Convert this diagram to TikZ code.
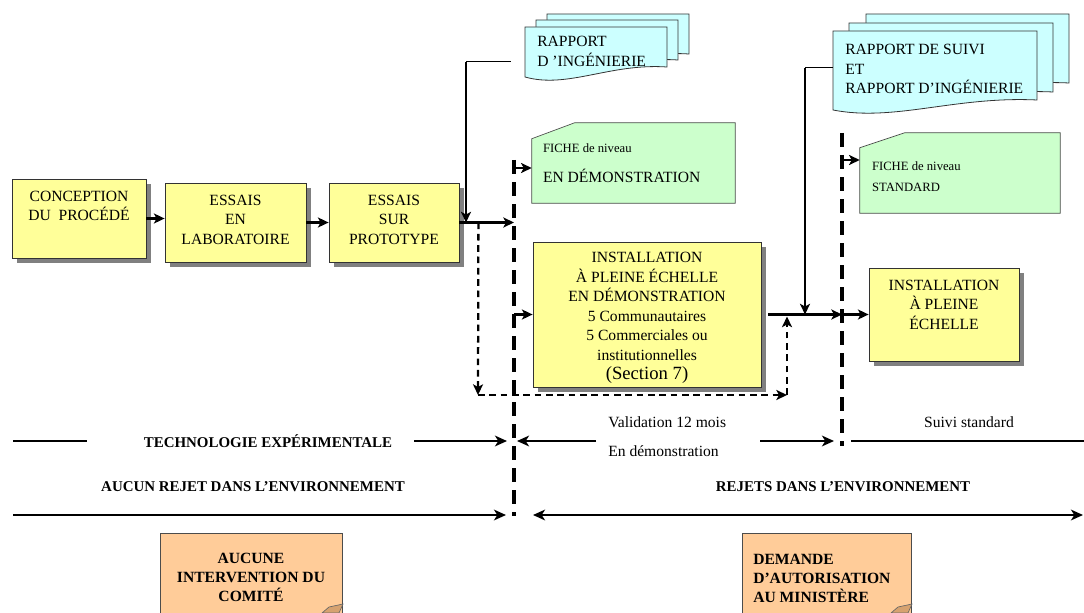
\documentclass[tikz,border=0pt]{standalone}
\usepackage{fontspec}
\setmainfont{Liberation Serif}
\usetikzlibrary{arrows.meta, positioning, calc, shadows, fit}
\definecolor{stageyellow}{RGB}{255,255,153}
\definecolor{fichegreen}{RGB}{204,255,204}
\definecolor{rapportcyan}{RGB}{204,255,255}
\definecolor{noteorange}{RGB}{255,204,153}
\definecolor{curltan}{RGB}{214,162,112}
\definecolor{shadowgray}{RGB}{128,128,128}

\newcommand{\docwave}[4]{(#1,#2) -- (#3,#2) -- (#3,#4-10) .. controls ({#1+0.6*(#3-#1)},#4-14) and ({#1+0.3*(#3-#1)},#4+12) .. (#1,#4) -- cycle}

\tikzset{
  stage/.style={draw=black!80, line width=0.6pt, fill=stageyellow, inner sep=0pt,
    drop shadow={shadow xshift=3.75pt, shadow yshift=-3.75pt, fill=shadowgray, opacity=1}},
  stagetext/.style={align=center, inner sep=0pt, font=\fontsize{11.7}{14.6}\selectfont},
  fiche/.style={draw=black!70, line width=0.5pt, fill=fichegreen},
  fichetext/.style={align=left, inner sep=0pt, anchor=north west, font=\fontsize{11.7}{14.6}\selectfont},
  rapport/.style={draw=black!80, line width=0.6pt, fill=rapportcyan},
  rapporttext/.style={align=left, inner sep=0pt, anchor=north west, font=\fontsize{11.7}{14.6}\selectfont},
  note/.style={draw=black!70, line width=0.6pt, fill=noteorange, inner sep=0pt},
  notetext/.style={inner sep=0pt, font=\bfseries\fontsize{11.7}{14.2}\selectfont},
  flow/.style={line width=1.8pt, -{Stealth[length=8pt, width=7.5pt, inset=2pt]}},
  flowdash/.style={flow, line width=1.7pt, dash pattern=on 5pt off 3.5pt},
  feed/.style={line width=0.75pt},
  limitline/.style={line width=3.2pt, dash pattern=on 10.5pt off 6pt},
  band/.style={line width=2.2pt},
  bandtip/.tip={Stealth[length=9pt, width=8pt, inset=2.5pt]},
  bandarr/.style={band, -bandtip},
  bandlabel/.style={inner sep=0pt, font=\bfseries\fontsize{11.2}{14}\selectfont},
  phase/.style={inner sep=0pt, anchor=west, font=\fontsize{11.7}{14}\selectfont}
}

\begin{document}
\begin{tikzpicture}[x=0.75pt, y=-0.75pt]
\useasboundingbox (0,0) rectangle (1084,613);

% etapes du procede
\node[stage, fit={(12,179) (146,258)}] (concept) {};
\node[stagetext, below=9pt of concept.north] (concepttxt) {CONCEPTION\\DU~~PROCÉDÉ};
\node[stage, fit={(165,183) (306,262)}] (labo) {};
\node[stagetext, below=9pt of labo.north] (labotxt) {ESSAIS\\EN\\LABORATOIRE};
\node[stage, fit={(329,183) (459,262)}] (proto) {};
\node[stagetext, below=9pt of proto.north] (prototxt) {ESSAIS\\SUR\\PROTOTYPE};
\node[stage, fit={(533,242) (761,387)}] (demo) {};
\node[stagetext, below=8pt of demo.north] (demotxt) {INSTALLATION\\À PLEINE ÉCHELLE\\EN DÉMONSTRATION\\5 Communautaires\\5 Commerciales ou\\institutionnelles\\{\fontsize{14}{16}\selectfont (Section 7)}};
\node[stage, fit={(869,268) (1019,361)}] (pleine) {};
\node[stagetext, below=9pt of pleine.north] (pleinetxt) {INSTALLATION\\À PLEINE\\ÉCHELLE};

% rapports
\filldraw[rapport] \docwave{547}{14}{689}{64};
\filldraw[rapport] \docwave{536}{20}{678}{70};
\filldraw[rapport] \docwave{525}{27}{667}{77};
\node[fit={(525,27) (667,77)}, inner sep=0pt] (ring) {};
\node[rapporttext] (ringtxt) at (537,36) {RAPPORT\\D 'INGÉNIERIE};

\filldraw[rapport] \docwave{866}{14}{1069}{93};
\filldraw[rapport] \docwave{849}{23}{1053}{102};
\filldraw[rapport] \docwave{833}{31}{1037}{110};
\node[fit={(833,31) (1037,110)}, inner sep=0pt] (rsuivi) {};
\node[rapporttext] (rsuivitxt) at (845,44) {RAPPORT DE SUIVI\\ET\\RAPPORT D’INGÉNIERIE};

% fiches
\node[fit={(532,123) (735,203)}, inner sep=0pt] (fdemo) {};
\filldraw[fiche] (fdemo.south west) -- ($(fdemo.north west)+(0,16)$) -- ($(fdemo.north west)+(43,0)$) -- (fdemo.north east) -- (fdemo.south east) -- cycle;
\node[fichetext] (fdemotxt) at ($(fdemo.north west)+(11,21)$) {{\fontsize{9.5}{11}\selectfont FICHE de niveau}\\[8pt]EN DÉMONSTRATION};
\node[fit={(860,133) (1060,213)}, inner sep=0pt] (fstd) {};
\filldraw[fiche] (fstd.south west) -- ($(fstd.north west)+(0,15)$) -- ($(fstd.north west)+(45,0)$) -- (fstd.north east) -- (fstd.south east) -- cycle;
\node[fichetext, font=\fontsize{9.5}{15.5}\selectfont] (fstdtxt) at ($(fstd.north west)+(12,29)$) {FICHE de niveau\\STANDARD};

% limites
\coordinate (d1a) at (514,160);
\coordinate (d1b) at (514,516);
\coordinate (d2a) at (842,133);
\coordinate (d2b) at (842,446);
\draw[limitline] (d1a) -- (d1b);
\draw[limitline] (d2a) -- (d2b);

% liens
\coordinate (j1) at (466,62);
\coordinate (j2) at (805,68);
\draw[flow] (concept.east) -- (concept.east -| labo.west);
\draw[flow] (labo.east) -- (proto.west);
\draw[flow] (proto.east) -- (proto.east -| d1a);
\draw[feed] (j1) -- ([xshift=-10.5pt]ring.west |- j1);
\draw[flow] (j1) -- (j1 |- proto.east);
\draw[flow] ([yshift=-3.75pt]fdemo.west -| d1a) -- ([yshift=-3.75pt]fdemo.west);
\draw[flow] (d1a |- demo.west) -- (demo.west);

\coordinate (dturn) at (478,395);
\coordinate (dup) at (787,395);
\draw[flowdash] ([xshift=14.25pt]proto.east) -- (dturn);
\draw[flowdash] (dturn) -- (dup);
\draw[flowdash] (dup) -- ([yshift=-1.5pt]dup |- demo.east);

\draw[flow] ([xshift=5.25pt]demo.east) -- (demo.east -| d2a);
\draw[feed] (j2) -- (j2 -| rsuivi.west);
\draw[flow] (j2) -- (j2 |- demo.east);
\draw[flow] (d2a |- pleine.west) -- (pleine.west);
\draw[flow] ([yshift=9.75pt]fstd.west -| d2a) -- ([yshift=9.75pt]fstd.west);

% bandes du bas
\node[bandlabel] (techno) at (268,441) {TECHNOLOGIE EXPÉRIMENTALE};
\draw[band] (13,441) -- (87,441);
\draw[bandarr] (414,441) -- ([xshift=-5.25pt]d1a |- techno);
\draw[bandarr] (596,441) -- ([xshift=2.25pt]d1a |- techno);
\node[phase] (valid) at (608,422) {Validation 12 mois};
\node[phase] (endemo) at (608,451) {En démonstration};
\draw[bandarr] (760,441) -- ([xshift=-6pt]d2a |- techno);
\draw[band] (851,441) -- (1084,441);
\node[phase, anchor=center] (suivi) at (969,422) {Suivi standard};

\node[bandlabel] (aucunrejet) at (253,487) {AUCUN REJET DANS L’ENVIRONNEMENT};
\node[bandlabel] (rejets) at (843,487) {REJETS DANS L’ENVIRONNEMENT};
\draw[bandarr] (13,515) -- ([xshift=-6pt]d1b |- 0,515);
\draw[band, bandtip-bandtip] (533,515) -- (1083,515);

% notes
\node[note, fit={(160,533) (342,630)}] (aucune) {};
\node[notetext, align=center, below=15pt of aucune.north] (aucunetxt) {AUCUNE\\INTERVENTION DU\\COMITÉ};
\filldraw[fill=curltan, draw=black!60, line width=0.5pt] (322,613) -- (329,607) -- (343,604) -- (339,613) -- cycle;
\node[note, fit={(742,533) (911,630)}] (demande) {};
\node[notetext, align=left, anchor=north west] (demandetxt) at (753,554) {DEMANDE\\D’AUTORISATION\\AU MINISTÈRE};
\filldraw[fill=curltan, draw=black!60, line width=0.5pt] (891,613) -- (898,607) -- (912,604) -- (908,613) -- cycle;
\end{tikzpicture}
\end{document}
